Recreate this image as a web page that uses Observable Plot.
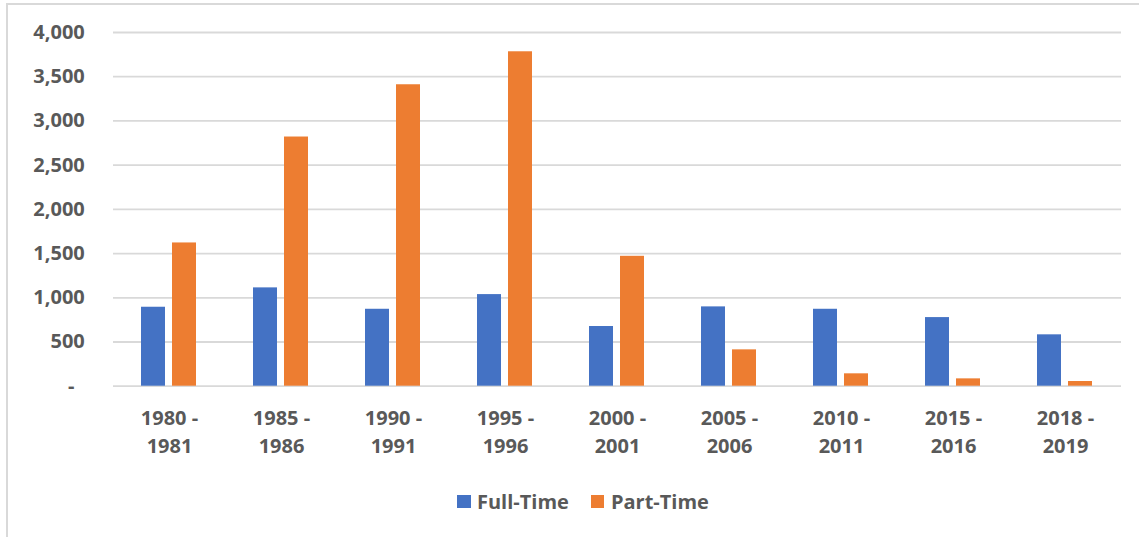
<!DOCTYPE html>
<html>
<head>
<meta charset="utf-8">
<script src="https://cdn.jsdelivr.net/npm/d3@7"></script>
<script src="https://cdn.jsdelivr.net/npm/@observablehq/plot@0.6"></script>
<style>
  html, body { margin: 0; padding: 0; background: #fff; }
  body { width: 1139px; height: 537px; position: relative; overflow: hidden; font-family: "Open Sans", sans-serif; }
  #frame { position: absolute; left: 6px; top: 3px; width: 1200px; height: 600px; border-left: 2px solid #d9d9d9; border-top: 2px solid #d9d9d9; box-sizing: border-box; }
  #chart { position: absolute; left: 0; top: 0; }
  #legend { position: absolute; top: 488px; left: 457px; display: flex; align-items: center; font-weight: 700; font-size: 20px; color: #595959; }
  #legend .item { display: flex; align-items: center; margin-right: 22px; }
  #legend .sw { width: 13.5px; height: 13.5px; margin-right: 6.5px; }
</style>
</head>
<body>
<div id="frame"></div>
<div id="chart"></div>
<div id="legend"></div>
<script>
const categories = ["1980 - 1981", "1985 - 1986", "1990 - 1991", "1995 - 1996", "2000 - 2001", "2005 - 2006", "2010 - 2011", "2015 - 2016", "2018 - 2019"];
const seriesNames = ["Full-Time", "Part-Time"];
const fullTime = [893, 1112, 870, 1036, 675, 897, 870, 776, 581];
const partTime = [1620, 2818, 3409, 3782, 1469, 411, 140, 83, 53];
const yTicks = [0, 500, 1000, 1500, 2000, 2500, 3000, 3500, 4000];
const seriesColors = ["#4472C4", "#ED7D31"];

const rows = [];
categories.forEach((c, i) => {
  rows.push({cat: c, series: seriesNames[0], value: fullTime[i]});
  rows.push({cat: c, series: seriesNames[1], value: partTime[i]});
});

const fmt = d3.format(",");
const chart = Plot.plot({
  width: 1139,
  height: 470,
  marginTop: 32,
  marginBottom: 84.3,
  marginLeft: 112,
  marginRight: 17.3,
  style: {fontFamily: "'Open Sans', sans-serif", background: "transparent"},
  fx: {domain: categories, padding: 0, axis: null},
  x: {domain: seriesNames, paddingInner: 0.22, paddingOuter: 0.863, axis: null},
  y: {domain: [0, 4000], axis: null},
  color: {domain: seriesNames, range: seriesColors},
  marks: [
    Plot.gridY(yTicks, {stroke: "#d9d9d9", strokeOpacity: 1, strokeWidth: 1.8}),
    Plot.axisY(yTicks, {
      label: null,
      tickSize: 0, tickPadding: 28.7,
      tickFormat: d => d === 0 ? "-\u00A0\u00A0" : fmt(d),
      fontSize: 20, fontWeight: 700, fill: "#595959"
    }),
    Plot.barY(rows, {fx: "cat", x: "series", y: "value", fill: "series"}),
    Plot.text(categories, {
      fx: d => d,
      frameAnchor: "bottom",
      text: d => d.replace(" - ", " -\n"),
      lineAnchor: "top",
      dy: 18.6,
      lineHeight: 1.41,
      fontSize: 20,
      fontWeight: 700,
      fill: "#595959"
    })
  ]
});
document.getElementById("chart").appendChild(chart);

const color = chart.scale("color");
const legend = document.getElementById("legend");
seriesNames.forEach(s => {
  const item = document.createElement("div");
  item.className = "item";
  const sw = document.createElement("div");
  sw.className = "sw";
  sw.style.background = color.apply(s);
  const lab = document.createElement("span");
  lab.textContent = s;
  item.appendChild(sw);
  item.appendChild(lab);
  legend.appendChild(item);
});
</script>
</body>
</html>
